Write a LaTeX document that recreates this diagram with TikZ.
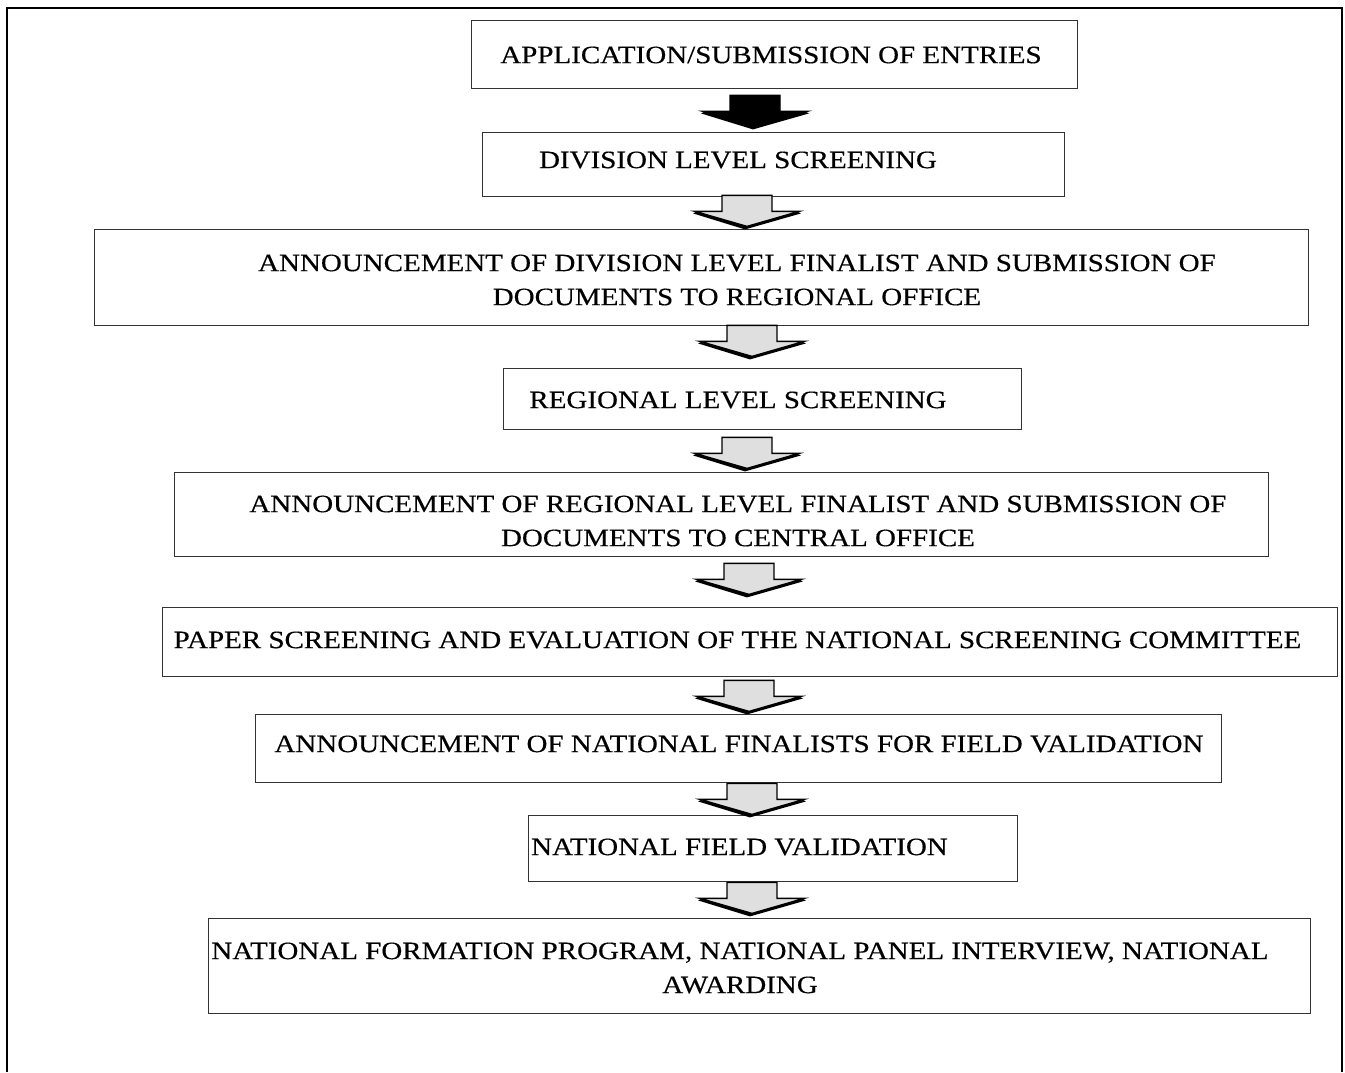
\documentclass[tikz,border=0pt]{standalone}
\usepackage{fontspec}
\setmainfont{Liberation Serif}[FakeStretch=1.16,FakeBold=0.4]
\usetikzlibrary{positioning,calc}

\tikzset{
  box/.style={draw=black!80, line width=0.8pt, rectangle, inner sep=0pt},
  caption/.style={font=\fontsize{25}{34}\selectfont, align=center, inner sep=0pt},
  flowarrow/.pic={
    % shadow under the head
    \fill[black] (-54,18) -- (-2,34) -- (54,18) -- (50,16) -- (0,31) -- (-50,16) -- cycle;
    \filldraw[fill=#1, draw=black, line width=1.4pt, line join=miter]
      (-25,0) -- (25,0) -- (25,16) -- (52,16) -- (0,31) -- (-52,16) -- (-25,16) -- cycle;
  },
}

\begin{document}
\begin{tikzpicture}[x=1pt,y=-1pt]
  \useasboundingbox (0,0) rectangle (1345,1072);

  % Frame
  \draw[line width=2.6pt] (7,1072) -- (7,8) -- (1342,8) -- (1342,1072);

  \coordinate (spine) at (751,0);

  % Boxes
  \node[box, minimum width=606pt, minimum height=68pt] (b1) at (774,54) {};
  \node[caption] (t1) at (771,55) {APPLICATION/SUBMISSION OF ENTRIES};

  \node[box, minimum width=582pt, minimum height=64pt] (b2) at (773,164) {};
  \node[caption] (t2) at (738,160) {DIVISION LEVEL SCREENING};

  \node[box, minimum width=1214pt, minimum height=96pt] (b3) at (701,277) {};
  \node[caption] (t3) at (737,280) {ANNOUNCEMENT OF DIVISION LEVEL FINALIST AND SUBMISSION OF\\DOCUMENTS TO REGIONAL OFFICE};

  \node[box, minimum width=518pt, minimum height=61pt] (b4) at (762,398.5) {};
  \node[caption] (t4) at (738,400) {REGIONAL LEVEL SCREENING};

  \node[box, minimum width=1094pt, minimum height=84pt] (b5) at (721,514) {};
  \node[caption] (t5) at (738,521) {ANNOUNCEMENT OF REGIONAL LEVEL FINALIST AND SUBMISSION OF\\DOCUMENTS TO CENTRAL OFFICE};

  \node[box, minimum width=1175pt, minimum height=69pt] (b6) at (749.5,641.5) {};
  \node[caption] (t6) at (737.5,640) {PAPER SCREENING AND EVALUATION OF THE NATIONAL SCREENING COMMITTEE};

  \node[box, minimum width=966pt, minimum height=68pt] (b7) at (738,748) {};
  \node[caption] (t7) at (739,744) {ANNOUNCEMENT OF NATIONAL FINALISTS FOR FIELD VALIDATION};

  \node[box, minimum width=489pt, minimum height=66pt] (b8) at (772.5,848) {};
  \node[caption] (t8) at (739.5,847) {NATIONAL FIELD VALIDATION};

  \node[box, minimum width=1102pt, minimum height=95pt] (b9) at (759,965.5) {};
  \node[caption] (t9) at (740,968) {NATIONAL FORMATION PROGRAM, NATIONAL PANEL INTERVIEW, NATIONAL\\AWARDING};

  % Arrows
  \pic at ($(spine |- b1.south)+(4,7)$) {flowarrow=black};
  \pic at ($(spine |- b2.south)+(-4,-1)$) {flowarrow=gray!25};
  \pic at ($(spine |- b3.south)+(1,0)$) {flowarrow=gray!25};
  \pic at ($(spine |- b4.south)+(-4,8)$) {flowarrow=gray!25};
  \pic at ($(spine |- b5.south)+(-2,7)$) {flowarrow=gray!25};
  \pic at ($(spine |- b6.south)+(-2,4)$) {flowarrow=gray!25};
  \pic at ($(spine |- b7.south)+(1,1)$) {flowarrow=gray!25};
  \pic at ($(spine |- b8.south)+(1,1)$) {flowarrow=gray!25};
\end{tikzpicture}
\end{document}
